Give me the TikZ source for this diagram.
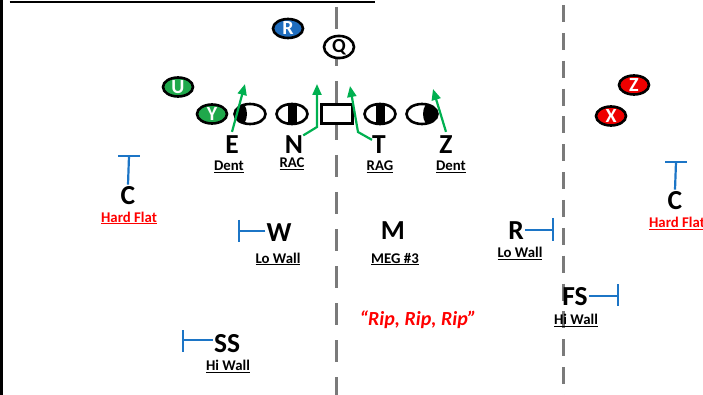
\documentclass[tikz,border=0pt]{standalone}
\usepackage{fontspec}
\setmainfont{Carlito}
\usetikzlibrary{shapes.geometric,arrows.meta}

\definecolor{playgreen}{HTML}{1FA84B}
\definecolor{playblue}{HTML}{1F6DBE}
\definecolor{playred}{HTML}{EE0000}
\definecolor{zoneblue}{HTML}{1C75C6}
\definecolor{routegreen}{HTML}{00B050}
\definecolor{hashgray}{HTML}{7A7A7A}
\definecolor{callred}{HTML}{FF0000}

\begin{document}
\begin{tikzpicture}[x=1pt,y=-1pt,
  oval/.style={ellipse, draw=black, line width=2.6pt, fill=white,
    minimum width=30pt, minimum height=19pt, inner sep=0pt,
    font=\bfseries\fontsize{20}{20}\selectfont},
  offense/.style={oval, fill=#1, text=white},
  lineman/.style={oval, minimum width=31pt, minimum height=20pt},
  leftshade/.style={path picture={\fill[black]
    ([xshift=-12pt]path picture bounding box.center) ellipse [x radius=9pt, y radius=13pt];}},
  rightshade/.style={path picture={\fill[black]
    ([xshift=10pt]path picture bounding box.center) ellipse [x radius=9pt, y radius=13pt];}},
  midshade/.style={path picture={\fill[black]
    ([xshift=-4.5pt,yshift=-15pt]path picture bounding box.center) rectangle
    ([xshift=4.5pt,yshift=15pt]path picture bounding box.center);}},
  ballbox/.style={draw=black, line width=2.6pt, fill=white,
    minimum width=31pt, minimum height=19pt, inner sep=0pt},
  letter/.style={inner sep=0pt, font=\bfseries\fontsize{27.5}{27.5}\selectfont},
  duty/.style={inner sep=0pt, font=\bfseries\fontsize{14.8}{14.8}\selectfont},
  zone/.style={draw=zoneblue, line width=2.2pt},
  route/.style={draw=routegreen, line width=2.2pt,
    -{Triangle[length=11pt,width=9pt]}},
  hash/.style={draw=hashgray, line width=3pt}
]
\useasboundingbox (0,0) rectangle (703,395);

% frame edges
\fill[black] (0,0) rectangle (3.3,395);
\draw[black, line width=1.8pt] (9.5,1.8) -- (375,1.8);

% hash lines
\draw[hash, dash pattern=on 22pt off 15pt] (336,7) -- (336,395);
\draw[hash, dash pattern=on 17pt off 10.85pt] (563,5) -- (563,395);

% offense
\node[offense=playblue] (rb) at (288,28.5) {R};
\node[oval] (qb) at (339,47) {Q};
\node[offense=playgreen] (uback) at (178,87) {U};
\node[offense=playgreen] (yback) at (212,114) {Y};
\node[offense=playred] (zrec) at (634,85) {Z};
\node[offense=playred] (xrec) at (611,116) {X};

% front
\node[lineman, leftshade] (eo) at (250,114) {};
\node[lineman, midshade] (no) at (292,114) {};
\node[ballbox] (ball) at (337,114) {};
\node[lineman, midshade] (to) at (380,114) {};
\node[lineman, rightshade] (zo) at (422,114) {};

% front labels
\node[letter] (E) at (232,145) {E};
\node[letter] (N) at (294,144.5) {N};
\node[letter] (T) at (379,145) {T};
\node[letter] (Z) at (446,145) {Z};
\node[duty] (eduty) at (229,166.5) {\underline{Dent}};
\node[duty] (nduty) at (292,163.5) {\underline{RAC}};
\node[duty] (tduty) at (380,166.5) {\underline{RAG}};
\node[duty] (zduty) at (451,166.5) {\underline{Dent}};

% rush paths
\coordinate (etip) at (245,84);
\coordinate (nbend) at (317,127);
\coordinate (ntip) at (317,84);
\coordinate (tbend) at (358,132);
\coordinate (ttip) at (350,86);
\coordinate (ztip) at (433,89);
\draw[route] ([yshift=4pt]E.north) -- (etip);
\draw[route] (N.north east) -- (nbend) -- (ntip);
\draw[route] ([yshift=-4pt]T.north west) -- (tbend) -- (ttip);
\draw[route] ([yshift=4pt]Z.north) -- (ztip);

% corners
\node[letter] (cl) at (128,196) {C};
\node[duty, text=callred] (clduty) at (129,218) {\underline{Hard Flat}};
\coordinate (clbar) at (129,156);
\draw[zone] ([yshift=2pt]cl.north) -- (clbar);
\draw[zone] ([xshift=-11pt]clbar) -- ([xshift=11pt]clbar);

\node[letter] (cr) at (675,201) {C};
\node[duty, text=callred] (crduty) at (677,223.5) {\underline{Hard Flat}};
\coordinate (crbar) at (676,162);
\draw[zone] ([yshift=2pt]cr.north) -- (crbar);
\draw[zone] ([xshift=-11pt]crbar) -- ([xshift=11pt]crbar);

% linebackers
\node[letter] (W) at (279,233) {W};
\node[duty] (wduty) at (278,259) {\underline{Lo Wall}};
\coordinate (wbar) at (239,231);
\draw[zone] ([xshift=-1pt]W.west |- wbar) -- (wbar);
\draw[zone] ([yshift=11pt]wbar) -- ([yshift=-11pt]wbar);

\node[letter] (M) at (393,230.5) {M};
\node[duty] (mduty) at (395,259) {\underline{MEG \#3}};

\node[letter] (R) at (516,230.5) {R};
\node[duty] (rduty) at (520,253.5) {\underline{Lo Wall}};
\coordinate (rbar) at (553,230);
\draw[zone] ([xshift=1pt]R.east |- rbar) -- (rbar);
\draw[zone] ([yshift=12pt]rbar) -- ([yshift=-11pt]rbar);

% safeties
\node[letter] (FS) at (575,297) {FS};
\node[duty] (fsduty) at (576,320.5) {\underline{Hi Wall}};
\coordinate (fsbar) at (618,296);
\draw[zone] ([xshift=1pt]FS.east |- fsbar) -- (fsbar);
\draw[zone] ([yshift=12pt]fsbar) -- ([yshift=-10pt]fsbar);

\node[letter] (SS) at (227,344) {SS};
\node[duty] (ssduty) at (228,366.5) {\underline{Hi Wall}};
\coordinate (ssbar) at (183,340);
\draw[zone] ([xshift=-1pt]SS.west |- ssbar) -- (ssbar);
\draw[zone] ([yshift=10pt]ssbar) -- ([yshift=-12pt]ssbar);

% call
\node[inner sep=0pt, text=callred, font=\bfseries\itshape\fontsize{20}{20}\selectfont]
  (call) at (418,320) {“Rip, Rip, Rip”};
\end{tikzpicture}
\end{document}
